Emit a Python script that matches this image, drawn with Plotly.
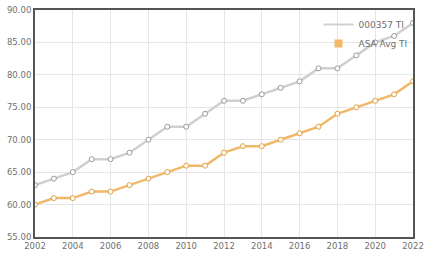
import plotly.graph_objects as go

years = list(range(2002, 2023))
ti_000357 = [63, 64, 65, 67, 67, 68, 70, 72, 72, 74, 76, 76, 77, 78, 79, 81, 81, 83, 85, 86, 88]
asa_avg = [60, 61, 61, 62, 62, 63, 64, 65, 66, 66, 68, 69, 69, 70, 71, 72, 74, 75, 76, 77, 79]
y_ticks = [55, 60, 65, 70, 75, 80, 85, 90]
x_ticks = list(range(2002, 2023, 2))

gray = "#cfcfcf"
orange = "#f0b868"

fig = go.Figure()
fig.add_trace(go.Scatter(x=years, y=ti_000357, mode="lines+markers", showlegend=False,
                         line=dict(color=gray, width=2.5),
                         marker=dict(symbol="circle", size=5, color="white",
                                     line=dict(color="#999999", width=1))))
fig.add_trace(go.Scatter(x=years, y=asa_avg, mode="lines+markers", showlegend=False,
                         line=dict(color=orange, width=2.5),
                         marker=dict(symbol="circle", size=5, color="white",
                                     line=dict(color="#e0a040", width=1))))
# legend-only entries
fig.add_trace(go.Scatter(x=[None], y=[None], mode="lines", name="000357 TI",
                         line=dict(color=gray, width=2)))
fig.add_trace(go.Scatter(x=[None], y=[None], mode="markers", name="ASA Avg TI",
                         marker=dict(symbol="square", size=8, color=orange)))

fig.update_layout(
    width=429, height=256,
    margin=dict(l=35, r=13, t=5, b=17),
    paper_bgcolor="white", plot_bgcolor="white",
    font=dict(family="DejaVu Sans", size=8.5, color="#707070"),
    legend=dict(x=0.75, y=1.0, xanchor="left", yanchor="top",
                bgcolor="rgba(255,255,255,0)", font=dict(size=9, color="#707070"),
                itemwidth=30, tracegroupgap=0),
    xaxis=dict(range=[2002, 2022], tickvals=x_ticks, showgrid=True,
               gridcolor="#e6e6e6", gridwidth=1, showline=True, linecolor="#555555",
               linewidth=2, mirror=True, zeroline=False, ticks=""),
    yaxis=dict(range=[55, 90], tickvals=y_ticks, tickformat=".2f", showgrid=True,
               gridcolor="#e6e6e6", gridwidth=1, showline=True, linecolor="#555555",
               linewidth=2, mirror=True, zeroline=False, ticks=""),
)
fig.write_html("out.html")
